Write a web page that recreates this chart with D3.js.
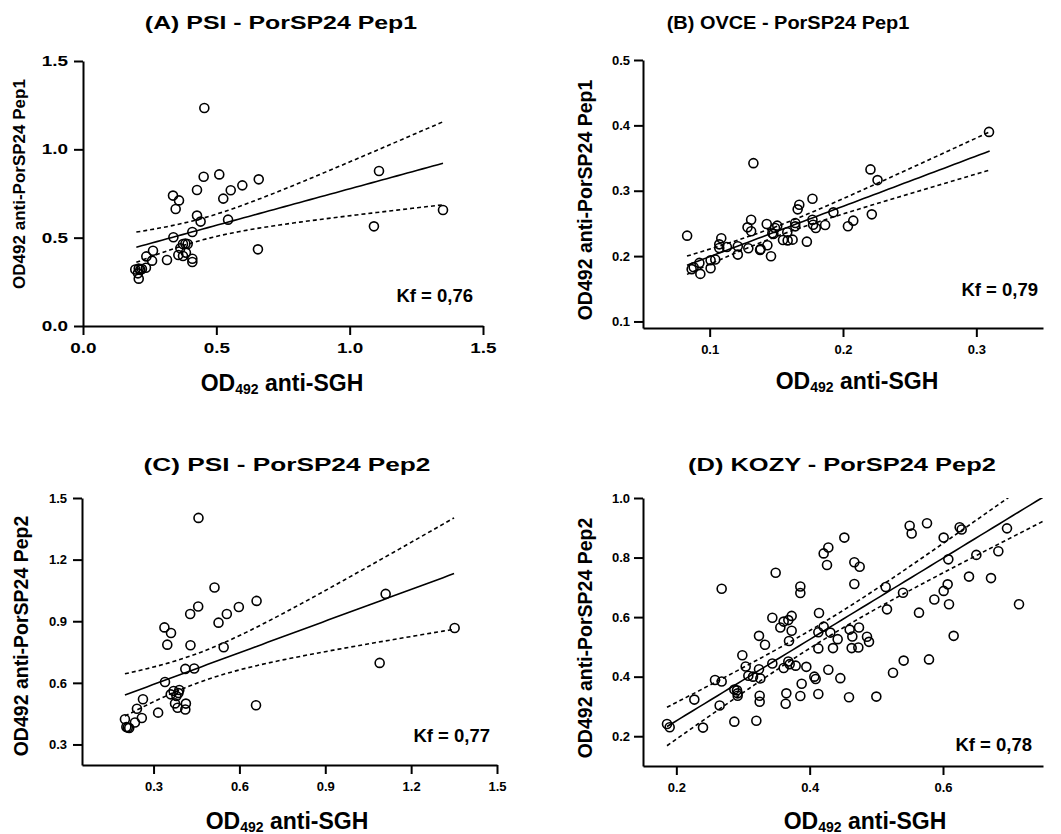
<!DOCTYPE html>
<html>
<head>
<meta charset="utf-8">
<script src="https://cdn.jsdelivr.net/npm/d3@7"></script>
<style>
body { margin: 0; background: #fff; }
svg text { font-family: "Liberation Sans", Arial, sans-serif; font-weight: bold; fill: #000; }
</style>
</head>
<body>
<svg id="chart" width="1061" height="834"></svg>
<script>
// (A) PSI - Pep1
var aX = [0.455,1.11,1.35,1.091,0.656,0.511,0.4525,0.659,0.5975,0.554,0.4275,0.526,0.3375,0.36,0.3475,0.4275,0.441,0.544,0.41,0.339,
          0.375,0.384,0.3925,0.365,0.3575,0.375,0.386,0.41,0.41,0.315,0.2625,0.2375,0.259,0.236,0.196,0.209,0.215,0.221,0.209,0.206];
var aY = [1.234,0.877,0.657,0.564,0.434,0.858,0.845,0.830,0.796,0.768,0.770,0.721,0.738,0.711,0.662,0.625,0.591,0.602,0.532,0.502,
          0.464,0.466,0.464,0.44,0.402,0.396,0.415,0.381,0.362,0.374,0.426,0.394,0.370,0.330,0.32,0.325,0.318,0.322,0.268,0.298];
// (B) OVCE - Pep1
var bX = [0.3095,0.2206,0.2259,0.2216,0.2077,0.2037,0.1928,0.1866,0.1771,0.1771,0.1776,0.1796,0.1729,0.1672,0.166,0.1642,0.1642,0.1622,0.1585,0.155,
          0.1582,0.1507,0.149,0.1478,0.1428,0.1433,0.146,0.1378,0.1328,0.1311,0.1284,0.1311,0.129,0.1211,0.1211,0.1129,0.1087,0.1072,0.1072,0.1042,
          0.1007,0.1007,0.0923,0.093,0.088,0.0865,0.0831,0.147,0.1382];
var bY = [0.390,0.3326,0.3163,0.2639,0.2542,0.2456,0.2669,0.2476,0.2878,0.2557,0.248,0.243,0.2221,0.2786,0.2715,0.2506,0.2455,0.2252,0.224,0.2247,
          0.2364,0.2466,0.243,0.2338,0.2491,0.2165,0.1997,0.2094,0.3422,0.2557,0.244,0.238,0.212,0.215,0.2023,0.214,0.2272,0.218,0.2125,0.1947,
          0.1936,0.1814,0.1896,0.1728,0.183,0.18,0.2313,0.235,0.2107];
// (C) PSI - Pep2
var cX = [0.457,1.111,1.352,1.09,0.658,0.66,0.513,0.456,0.598,0.428,0.556,0.527,0.338,0.361,0.348,0.429,0.545,0.411,0.442,0.340,
          0.39,0.387,0.37,0.36,0.38,0.375,0.384,0.413,0.411,0.316,0.263,0.242,0.259,0.235,0.2,0.21,0.215,0.205];
var cY = [1.403,1.033,0.867,0.697,0.491,0.999,1.064,0.972,0.969,0.935,0.935,0.893,0.870,0.843,0.786,0.783,0.773,0.668,0.670,0.604,
          0.565,0.55,0.56,0.544,0.536,0.500,0.479,0.499,0.470,0.455,0.520,0.474,0.429,0.407,0.423,0.382,0.38,0.385];
// (D) KOZY - Pep2
var dX = [0.186,0.19,0.227,0.24,0.258,0.268,0.268,0.265,0.287,0.287,0.291,0.292,0.292,0.299,0.304,0.308,0.315,0.32,0.324,0.324,
          0.326,0.325,0.325,0.333,0.344,0.344,0.349,0.356,0.361,0.368,0.373,0.369,0.373,0.361,0.368,0.37,0.379,0.365,0.364,0.386,
          0.386,0.388,0.386,0.395,0.407,0.409,0.413,0.414,0.413,0.413,0.421,0.421,0.428,0.426,0.431,0.428,0.435,0.442,0.446,0.452,
          0.459,0.46,0.464,0.463,0.473,0.474,0.467,0.475,0.467,0.486,0.489,0.5,0.514,0.516,0.525,0.54,0.541,0.55,0.553,0.564,
          0.576,0.579,0.587,0.601,0.601,0.607,0.608,0.609,0.616,0.625,0.628,0.639,0.65,0.672,0.683,0.696,0.714];
var dY = [0.241,0.23,0.323,0.229,0.389,0.384,0.695,0.303,0.249,0.357,0.354,0.336,0.344,0.472,0.434,0.403,0.4,0.252,0.537,0.425,
          0.394,0.336,0.316,0.507,0.444,0.598,0.749,0.565,0.585,0.59,0.604,0.52,0.554,0.429,0.451,0.442,0.437,0.344,0.309,0.703,
          0.681,0.376,0.335,0.433,0.4,0.392,0.342,0.614,0.549,0.495,0.568,0.814,0.834,0.775,0.548,0.423,0.496,0.526,0.395,0.867,
          0.331,0.558,0.535,0.496,0.498,0.565,0.784,0.769,0.711,0.534,0.517,0.333,0.701,0.626,0.413,0.682,0.454,0.907,0.881,0.615,
          0.915,0.458,0.659,0.867,0.688,0.71,0.794,0.643,0.537,0.902,0.894,0.736,0.809,0.731,0.821,0.898,0.643];

var titles = ["(A) PSI - PorSP24 Pep1", "(B) OVCE - PorSP24 Pep1", "(C) PSI - PorSP24 Pep2", "(D) KOZY - PorSP24 Pep2"];
var yTitles = ["OD492 anti-PorSP24 Pep1", "OD492 anti-PorSP24 Pep1", "OD492 anti-PorSP24 Pep2", "OD492 anti-PorSP24 Pep2"];
var kfLabels = ["Kf = 0,76", "Kf = 0,79", "Kf = 0,77", "Kf = 0,78"];
var xTicks = [[0, 0.5, 1.0, 1.5], [0.1, 0.2, 0.3], [0.3, 0.6, 0.9, 1.2, 1.5], [0.2, 0.4, 0.6]];
var yTicks = [[0, 0.5, 1.0, 1.5], [0.1, 0.2, 0.3, 0.4, 0.5], [0.3, 0.6, 0.9, 1.2, 1.5], [0.2, 0.4, 0.6, 0.8, 1.0]];
var xDomains = [[0, 1.5], [0.05, 0.35], [0.05, 1.5], [0.15, 0.75]];
var yDomains = [[0, 1.5], [0.09, 0.5], [0.2, 1.5], [0.1, 1.0]];
// fitted lines: [intercept, slope], and their x extent
var fitLines = [[0.3634, 0.4131], [0.1221, 0.770], [0.4382, 0.5139], [-0.0214, 1.3655]];
var fitRanges = [[0.2, 1.35], [0.083, 0.31], [0.2, 1.35], [0.186, 0.75]];

// layout per panel
var panels = [
  {xs: aX, ys: aY, left: 83, top: 61, w: 400, h: 265, tickFont: 14, tickSx: 1.35, titleX: 281, titleY: 29, titleSx: 1.31,
   yLab: {x: 25, y: 184, size: 17}, xLab: {x: 282, y: 391}, kf: {x: 473, y: 302}},
  {xs: bX, ys: bY, left: 643, top: 60, w: 400, h: 268, tickFont: 13, tickSx: 1, titleX: 788, titleY: 29, titleSx: 1.05,
   yLab: {x: 592, y: 200, size: 19.5}, xLab: {x: 857, y: 389}, kf: {x: 1038, y: 296}},
  {xs: cX, ys: cY, left: 82, top: 498, w: 415, h: 267, tickFont: 13, tickSx: 1, titleX: 287, titleY: 471, titleSx: 1.38,
   yLab: {x: 28, y: 636, size: 19.5}, xLab: {x: 287, y: 829}, kf: {x: 490, y: 742}},
  {xs: dX, ys: dY, left: 643, top: 498, w: 400, h: 268, tickFont: 13, tickSx: 1, titleX: 842, titleY: 471, titleSx: 1.34,
   yLab: {x: 592, y: 638, size: 19.5}, xLab: {x: 865, y: 829}, kf: {x: 1032, y: 751}}
];

function tCrit(df) { return 1.96 + 2.37 / df + 2.8 / (df * df); }

// 95% confidence band around a given line, from the residuals of the points
function band(xs, ys, fl) {
  var n = xs.length, mx = d3.mean(xs), sxx = 0, sse = 0;
  xs.forEach(function(x, i) {
    sxx += (x - mx) * (x - mx);
    var r = ys[i] - fl[0] - fl[1] * x; sse += r * r;
  });
  var s = Math.sqrt(sse / (n - 2)), t = tCrit(n - 2);
  return function(x) { return t * s * Math.sqrt(1 / n + (x - mx) * (x - mx) / sxx); };
}

var svg = d3.select("#chart");

panels.forEach(function(p, i) {
  var x = d3.scaleLinear().domain(xDomains[i]).range([p.left, p.left + p.w]);
  var y = d3.scaleLinear().domain(yDomains[i]).range([p.top + p.h, p.top]);
  var g = svg.append("g");

  g.append("clipPath").attr("id", "clip" + i).append("rect")
    .attr("x", p.left).attr("y", p.top).attr("width", p.w).attr("height", p.h);

  var xa = g.append("g").attr("transform", "translate(0," + (p.top + p.h) + ")")
    .call(d3.axisBottom(x).tickValues(xTicks[i]).tickFormat(d3.format(".1f")).tickSize(9).tickSizeOuter(0).tickPadding(8));
  var ya = g.append("g").attr("transform", "translate(" + p.left + ",0)")
    .call(d3.axisLeft(y).tickValues(yTicks[i]).tickFormat(d3.format(".1f")).tickSize(9).tickSizeOuter(0).tickPadding(i % 2 ? 4 : 6));
  [xa, ya].forEach(function(a) {
    a.selectAll("path, line").attr("stroke", "#000").attr("stroke-width", 2);
    a.selectAll("text").style("font-size", p.tickFont + "px").attr("fill", "#000")
      .attr("x", function() { return +d3.select(this).attr("x") / p.tickSx; })
      .attr("transform", "scale(" + p.tickSx + ",1)");
  });

  var fl = fitLines[i], half = band(p.xs, p.ys, fl);
  var fy = function(v) { return fl[0] + fl[1] * v; };
  var xr = d3.range(0, 61).map(function(k) { return fitRanges[i][0] + (fitRanges[i][1] - fitRanges[i][0]) * k / 60; });
  var line = d3.line().x(function(d) { return x(d[0]); }).y(function(d) { return y(d[1]); });
  var lines = g.append("g").attr("clip-path", "url(#clip" + i + ")").attr("fill", "none").attr("stroke", "#000");
  lines.append("path").attr("stroke-width", 1.6)
    .attr("d", line(xr.map(function(v) { return [v, fy(v)]; })));
  [1, -1].forEach(function(sgn) {
    lines.append("path").attr("stroke-width", 1.6).attr("stroke-dasharray", "4,3")
      .attr("d", line(xr.map(function(v) { return [v, fy(v) + sgn * half(v)]; })));
  });

  g.append("g").selectAll("circle").data(p.xs).enter().append("circle")
    .attr("cx", function(d) { return x(d); })
    .attr("cy", function(d, k) { return y(p.ys[k]); })
    .attr("r", 4.5).attr("fill", "none").attr("stroke", "#000").attr("stroke-width", 1.6);

  g.append("text").attr("transform", "translate(" + p.titleX + "," + p.titleY + ") scale(" + p.titleSx + ",1)")
    .attr("text-anchor", "middle").style("font-size", "19px").text(titles[i]);

  g.append("text").attr("transform", "translate(" + p.yLab.x + "," + p.yLab.y + ") rotate(-90)")
    .attr("text-anchor", "middle").style("font-size", p.yLab.size + "px").text(yTitles[i]);

  var xl = g.append("text").attr("x", p.xLab.x).attr("y", p.xLab.y).attr("text-anchor", "middle")
    .style("font-size", "23px");
  xl.append("tspan").text("OD");
  xl.append("tspan").attr("dy", 3).style("font-size", "14px").text("492");
  xl.append("tspan").attr("dy", -3).text(" anti-SGH");

  g.append("text").attr("x", p.kf.x).attr("y", p.kf.y).attr("text-anchor", "end")
    .style("font-size", "18.5px").text(kfLabels[i]);
});
</script>
</body>
</html>
